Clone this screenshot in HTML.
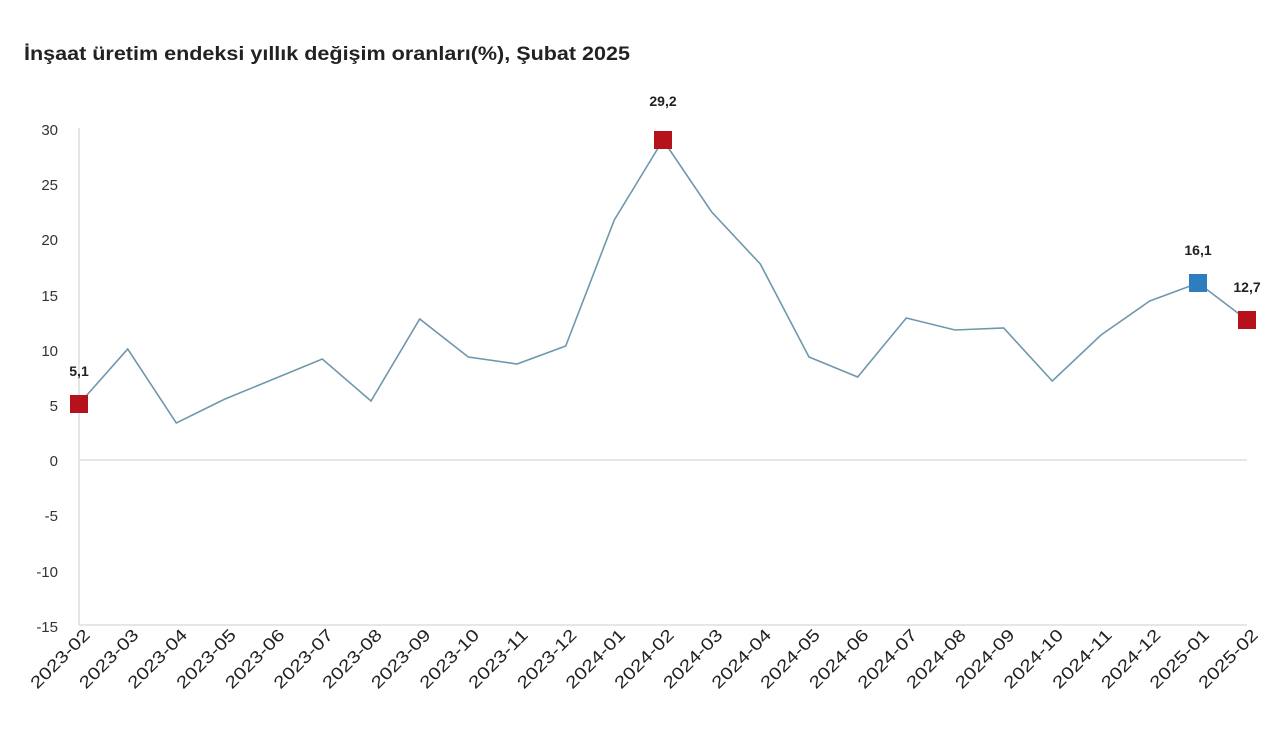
<!DOCTYPE html>
<html><head><meta charset="utf-8"><style>body{margin:0;background:#fff}svg{display:block}</style></head><body>
<svg width="1280" height="753" xmlns="http://www.w3.org/2000/svg" font-family="Liberation Sans, DejaVu Sans, sans-serif">
<text x="24" y="60" font-size="19" font-weight="bold" fill="#222" textLength="606" lengthAdjust="spacingAndGlyphs">İnşaat üretim endeksi yıllık değişim oranları(%), Şubat 2025</text>
<line x1="79" y1="128" x2="79" y2="625" stroke="#ddd" stroke-width="1.5"/>
<line x1="79" y1="460" x2="1247" y2="460" stroke="#ddd" stroke-width="1.5"/>
<line x1="79" y1="625" x2="1247" y2="625" stroke="#ddd" stroke-width="1.5"/>
<g font-size="15" fill="#333" text-anchor="end">
<text x="58" y="135">30</text><text x="58" y="190">25</text><text x="58" y="245">20</text><text x="58" y="301">15</text><text x="58" y="356">10</text><text x="58" y="411">5</text><text x="58" y="466">0</text><text x="58" y="521">-5</text><text x="58" y="577">-10</text><text x="58" y="632">-15</text>
</g>
<polyline fill="none" stroke="#6f98ad" stroke-width="1.6" points="79,404 127.7,349 176.3,423 225,399 273.7,379 322.3,359 371,401 419.7,319 468.3,357 517,364 565.7,346 614.3,220 663,140 711.7,212 760.3,264 809,357 857.7,377 906.3,318 955,330 1003.7,328 1052.3,381 1101,335 1149.7,301 1198.3,283 1247,320"/>
<rect x="70" y="395" width="18" height="18" fill="#b5121b"/>
<rect x="654" y="131" width="18" height="18" fill="#b5121b"/>
<rect x="1189" y="274" width="18" height="18" fill="#2e7ebf"/>
<rect x="1238" y="311" width="18" height="18" fill="#b5121b"/>
<g font-size="14" font-weight="bold" fill="#222" text-anchor="middle">
<text x="79" y="376">5,1</text><text x="663" y="106">29,2</text><text x="1198" y="255">16,1</text><text x="1247" y="292">12,7</text>
</g>
<g font-size="17" fill="#222" text-anchor="end">
<text transform="translate(91,636) rotate(-45)" textLength="76" lengthAdjust="spacingAndGlyphs">2023-02</text>
<text transform="translate(139.7,636) rotate(-45)" textLength="76" lengthAdjust="spacingAndGlyphs">2023-03</text>
<text transform="translate(188.3,636) rotate(-45)" textLength="76" lengthAdjust="spacingAndGlyphs">2023-04</text>
<text transform="translate(237,636) rotate(-45)" textLength="76" lengthAdjust="spacingAndGlyphs">2023-05</text>
<text transform="translate(285.7,636) rotate(-45)" textLength="76" lengthAdjust="spacingAndGlyphs">2023-06</text>
<text transform="translate(334.3,636) rotate(-45)" textLength="76" lengthAdjust="spacingAndGlyphs">2023-07</text>
<text transform="translate(383,636) rotate(-45)" textLength="76" lengthAdjust="spacingAndGlyphs">2023-08</text>
<text transform="translate(431.7,636) rotate(-45)" textLength="76" lengthAdjust="spacingAndGlyphs">2023-09</text>
<text transform="translate(480.3,636) rotate(-45)" textLength="76" lengthAdjust="spacingAndGlyphs">2023-10</text>
<text transform="translate(529,636) rotate(-45)" textLength="76" lengthAdjust="spacingAndGlyphs">2023-11</text>
<text transform="translate(577.7,636) rotate(-45)" textLength="76" lengthAdjust="spacingAndGlyphs">2023-12</text>
<text transform="translate(626.3,636) rotate(-45)" textLength="76" lengthAdjust="spacingAndGlyphs">2024-01</text>
<text transform="translate(675,636) rotate(-45)" textLength="76" lengthAdjust="spacingAndGlyphs">2024-02</text>
<text transform="translate(723.7,636) rotate(-45)" textLength="76" lengthAdjust="spacingAndGlyphs">2024-03</text>
<text transform="translate(772.3,636) rotate(-45)" textLength="76" lengthAdjust="spacingAndGlyphs">2024-04</text>
<text transform="translate(821,636) rotate(-45)" textLength="76" lengthAdjust="spacingAndGlyphs">2024-05</text>
<text transform="translate(869.7,636) rotate(-45)" textLength="76" lengthAdjust="spacingAndGlyphs">2024-06</text>
<text transform="translate(918.3,636) rotate(-45)" textLength="76" lengthAdjust="spacingAndGlyphs">2024-07</text>
<text transform="translate(967,636) rotate(-45)" textLength="76" lengthAdjust="spacingAndGlyphs">2024-08</text>
<text transform="translate(1015.7,636) rotate(-45)" textLength="76" lengthAdjust="spacingAndGlyphs">2024-09</text>
<text transform="translate(1064.3,636) rotate(-45)" textLength="76" lengthAdjust="spacingAndGlyphs">2024-10</text>
<text transform="translate(1113,636) rotate(-45)" textLength="76" lengthAdjust="spacingAndGlyphs">2024-11</text>
<text transform="translate(1161.7,636) rotate(-45)" textLength="76" lengthAdjust="spacingAndGlyphs">2024-12</text>
<text transform="translate(1210.3,636) rotate(-45)" textLength="76" lengthAdjust="spacingAndGlyphs">2025-01</text>
<text transform="translate(1259,636) rotate(-45)" textLength="76" lengthAdjust="spacingAndGlyphs">2025-02</text>
</g>
</svg>
</body></html>
